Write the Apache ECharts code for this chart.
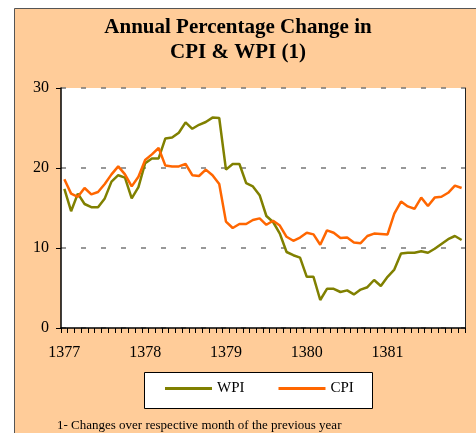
<!DOCTYPE html>
<html>
<head>
<meta charset="utf-8">
<script src="https://cdn.jsdelivr.net/npm/echarts@6/dist/echarts.min.js"></script>
<style>
  html, body { margin: 0; padding: 0; background: #fff; }
  #chart { width: 476px; height: 433px; }
</style>
</head>
<body>
<div id="chart"></div>
<script>
const years = ['1377', '1378', '1379', '1380', '1381'];
const yTicks = [0, 10, 20, 30];

// monthly annual % change, 60 months (1377-1381)
const wpi = [
  17.4, 14.6, 16.8, 15.5, 15.1, 15.1, 16.2, 18.3, 19.1, 18.8, 16.2, 17.6,
  20.6, 21.2, 21.2, 23.7, 23.8, 24.4, 25.7, 24.9, 25.4, 25.75, 26.3, 26.25,
  19.8, 20.5, 20.5, 18.1, 17.7, 16.6, 14.0, 13.25, 11.8, 9.5, 9.1, 8.8,
  6.4, 6.4, 3.5, 4.9, 4.9, 4.5, 4.7, 4.2, 4.8, 5.1, 6.0, 5.25,
  6.4, 7.3, 9.3, 9.4, 9.4, 9.6, 9.4, 9.9, 10.5, 11.1, 11.5, 11.0
];
const cpi = [
  18.6, 16.8, 16.4, 17.5, 16.7, 17.0, 18.0, 19.2, 20.2, 19.2, 17.7, 18.9,
  21.0, 21.7, 22.5, 20.3, 20.2, 20.2, 20.5, 19.1, 19.0, 19.8, 19.1, 18.0,
  13.3, 12.5, 13.0, 13.0, 13.5, 13.7, 12.9, 13.4, 12.8, 11.4, 10.9, 11.3,
  11.9, 11.7, 10.4, 12.2, 11.9, 11.25, 11.3, 10.7, 10.6, 11.5, 11.8, 11.75,
  11.7, 14.3, 15.8, 15.2, 14.9, 16.3, 15.25, 16.3, 16.4, 16.9, 17.8, 17.5
];

const months = [];
years.forEach(function (y) {
  for (let m = 1; m <= 12; m++) months.push(y + '-' + m);
});

const serif = '"Liberation Serif", "DejaVu Serif", serif';
const myChart = echarts.init(document.getElementById('chart'));
const option = {
  animation: false,
  backgroundColor: '#fff',
  graphic: [
    {
      type: 'rect', z: -10,
      shape: { x: 14.5, y: 8.5, width: 470, height: 430 },
      style: { fill: '#FFCC99', stroke: '#555', lineWidth: 1 }
    },
    {
      type: 'text', left: 'center', top: 15,
      style: {
        text: 'Annual Percentage Change in\nCPI & WPI (1)',
        font: 'bold 21px ' + serif, fill: '#000',
        textAlign: 'center', lineHeight: 25
      }
    },
    {
      type: 'rect',
      shape: { x: 144.5, y: 372.5, width: 228, height: 36 },
      style: { fill: '#fff', stroke: '#000', lineWidth: 1 }
    },
    {
      type: 'text', left: 57, top: 419,
      style: {
        text: '1- Changes over respective month of the previous year',
        font: '13px ' + serif, fill: '#000'
      }
    }
  ],
  grid: {
    left: 61, right: 11, top: 88, bottom: 105,
    show: true, backgroundColor: '#fff', borderWidth: 0
  },
  legend: {
    data: ['WPI', 'CPI'],
    top: 381, left: 165, padding: 0,
    itemGap: 34, itemWidth: 47, itemHeight: 3,
    icon: 'rect',
    textStyle: { fontFamily: serif, fontSize: 15, color: '#000' }
  },
  xAxis: {
    type: 'category',
    data: months,
    boundaryGap: true,
    axisLine: { lineStyle: { color: '#000', width: 1.5 } },
    axisTick: { show: true, interval: 0, length: 5, lineStyle: { color: '#000' } },
    axisLabel: {
      interval: 11, margin: 17,
      fontFamily: serif, fontSize: 16, color: '#000',
      formatter: function (v) { return v.split('-')[0]; }
    },
    splitLine: { show: false }
  },
  yAxis: [
    {
      type: 'value', min: yTicks[0], max: yTicks[yTicks.length - 1], interval: 10,
      axisLine: { show: true, lineStyle: { color: '#000', width: 1.5 } },
      axisTick: { show: true, length: 5, lineStyle: { color: '#000' } },
      axisLabel: { margin: 12, fontFamily: serif, fontSize: 16, color: '#000' },
      splitLine: { show: true, lineStyle: { color: '#777', type: [5, 15], width: 1.5 } }
    },
    {
      type: 'value', min: 0, max: 30, position: 'right',
      axisLine: { show: true, lineStyle: { color: '#222', width: 1 } },
      axisTick: { show: false }, axisLabel: { show: false }, splitLine: { show: false }
    }
  ],
  series: [
    {
      name: 'WPI', type: 'line', data: wpi,
      symbol: 'none', lineStyle: { color: '#808000', width: 2.5 },
      itemStyle: { color: '#808000' }
    },
    {
      name: 'CPI', type: 'line', data: cpi,
      symbol: 'none', lineStyle: { color: '#FF6600', width: 2.5 },
      itemStyle: { color: '#FF6600' }
    }
  ]
};
myChart.setOption(option);
</script>
</body>
</html>
